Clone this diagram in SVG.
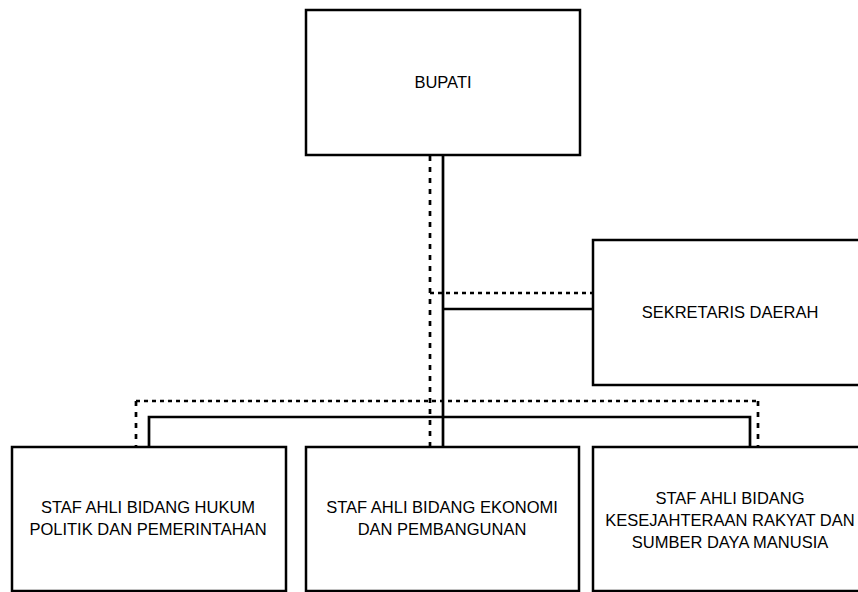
<svg xmlns="http://www.w3.org/2000/svg" width="858" height="592" viewBox="0 0 858 592">
<style>
.box{fill:#fff;stroke:#000;stroke-width:2.5}
.t{font-family:"Liberation Sans",Arial,sans-serif;font-size:16.5px;fill:#000;text-anchor:middle}
.s{fill:none;stroke:#000;stroke-width:2.7}
.dh{fill:none;stroke:#000;stroke-width:2.7;stroke-dasharray:4 4}
.dv{fill:none;stroke:#000;stroke-width:2.7;stroke-dasharray:5 6}
</style>
<rect width="858" height="592" fill="#fff"/>
<g id="connectors">
<line class="dv" x1="430" y1="156" x2="430" y2="447"/>
<line class="dh" x1="430" y1="293" x2="593" y2="293"/>
<line class="s" x1="443" y1="156" x2="443" y2="447"/>
<line class="s" x1="443" y1="309" x2="593" y2="309"/>
<line class="dh" x1="136" y1="401" x2="758" y2="401"/>
<line class="dv" x1="136" y1="401" x2="136" y2="447"/>
<line class="dv" x1="758" y1="401" x2="758" y2="447"/>
<polyline class="s" points="149,447 149,417 750,417 750,447"/>
</g>
<g id="bupati">
<rect class="box" x="306" y="10" width="274" height="145"/>
<text class="t" x="443" y="88">BUPATI</text>
</g>
<g id="sekretaris">
<rect class="box" x="593" y="240" width="274" height="145"/>
<text class="t" x="730" y="318">SEKRETARIS DAERAH</text>
</g>
<g id="staf-hukum">
<rect class="box" x="12" y="447" width="274" height="144"/>
<text class="t" x="148" y="513">STAF AHLI BIDANG HUKUM</text>
<text class="t" x="148" y="534.5">POLITIK DAN PEMERINTAHAN</text>
</g>
<g id="staf-ekonomi">
<rect class="box" x="306" y="447" width="273" height="144"/>
<text class="t" x="442" y="513">STAF AHLI BIDANG EKONOMI</text>
<text class="t" x="442" y="534.5">DAN PEMBANGUNAN</text>
</g>
<g id="staf-kesra">
<rect class="box" x="593" y="447" width="274" height="144"/>
<text class="t" x="730" y="504">STAF AHLI BIDANG</text>
<text class="t" x="730" y="526">KESEJAHTERAAN RAKYAT DAN</text>
<text class="t" x="730" y="548">SUMBER DAYA MANUSIA</text>
</g>
</svg>
